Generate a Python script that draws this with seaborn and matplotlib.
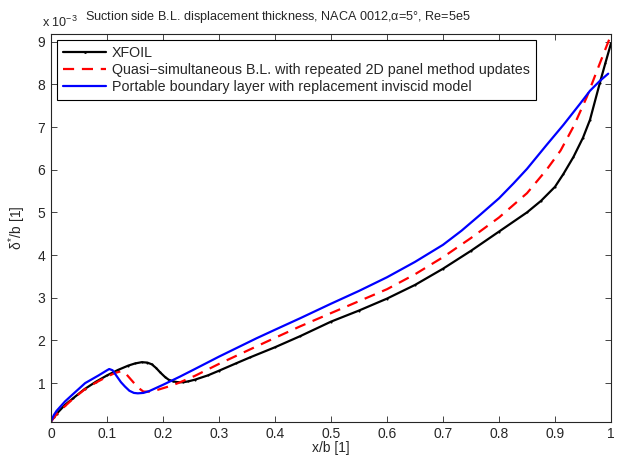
import numpy as np
import pandas as pd
import matplotlib
matplotlib.use("Agg")
import matplotlib.pyplot as plt
import seaborn as sns

# displacement thickness values in units of 1e-3
xfoil_x = [0.0, 0.005, 0.01, 0.025, 0.04, 0.06, 0.08, 0.1, 0.12, 0.138, 0.15, 0.162, 0.172, 0.18,
           0.188, 0.195, 0.203, 0.21, 0.218, 0.227, 0.236, 0.245, 0.257, 0.28, 0.3, 0.33, 0.355,
           0.4, 0.445, 0.5, 0.55, 0.6, 0.65, 0.7, 0.75, 0.8, 0.85, 0.875, 0.9, 0.915, 0.933,
           0.95, 0.9625, 0.98, 0.99, 1.0]
xfoil_y = [0.1, 0.2, 0.28, 0.49, 0.65, 0.86, 1.03, 1.18, 1.31, 1.41, 1.46, 1.49, 1.48, 1.44,
           1.35, 1.25, 1.15, 1.08, 1.04, 1.02, 1.02, 1.04, 1.08, 1.18, 1.29, 1.46, 1.6,
           1.84, 2.1, 2.44, 2.7, 2.98, 3.3, 3.68, 4.1, 4.55, 5.0, 5.27, 5.6, 5.9, 6.3,
           6.75, 7.17, 8.03, 8.5, 8.96]

quasi_x = [0.0, 0.01, 0.025, 0.04, 0.06, 0.08, 0.1, 0.115, 0.126, 0.135, 0.147, 0.157, 0.165,
           0.175, 0.19, 0.21, 0.227, 0.257, 0.3, 0.367, 0.4, 0.445, 0.5, 0.55, 0.6, 0.65, 0.7,
           0.75, 0.8, 0.85, 0.885, 0.91, 0.933, 0.957, 0.98, 1.0]
quasi_y = [0.1, 0.27, 0.46, 0.64, 0.85, 1.01, 1.15, 1.24, 1.28, 1.2, 1.02, 0.88, 0.8,
           0.8, 0.84, 0.92, 1.0, 1.17, 1.45, 1.86, 2.06, 2.33, 2.64, 2.92, 3.2, 3.55, 3.95,
           4.4, 4.88, 5.45, 6.0, 6.45, 7.01, 7.71, 8.49, 9.16]

portable_x = [0.0, 0.005, 0.01, 0.025, 0.04, 0.061, 0.085, 0.1, 0.104, 0.11, 0.118, 0.125, 0.132,
              0.14, 0.148, 0.155, 0.165, 0.175, 0.2, 0.23, 0.257, 0.3, 0.367, 0.4, 0.445, 0.5,
              0.55, 0.6, 0.65, 0.7, 0.733, 0.766, 0.8, 0.826, 0.85, 0.885, 0.915, 0.945, 0.9625,
              0.98, 0.995]
portable_y = [0.1, 0.25, 0.35, 0.57, 0.75, 1.0, 1.18, 1.3, 1.33, 1.3, 1.15, 1.02, 0.92,
              0.82, 0.77, 0.76, 0.77, 0.81, 0.96, 1.15, 1.33, 1.62, 2.05, 2.25, 2.52, 2.86,
              3.16, 3.48, 3.84, 4.24, 4.57, 4.94, 5.33, 5.68, 6.02, 6.58, 7.05, 7.55, 7.85,
              8.08, 8.25]

labels = ["XFOIL",
          "Quasi\u2212simultaneous B.L. with repeated 2D panel method updates",
          "Portable boundary layer with replacement inviscid model"]

x_ticks = [0, 0.1, 0.2, 0.3, 0.4, 0.5, 0.6, 0.7, 0.8, 0.9, 1.0]
x_ticklabels = ["0", "0.1", "0.2", "0.3", "0.4", "0.5", "0.6", "0.7", "0.8", "0.9", "1"]
y_ticks = [1, 2, 3, 4, 5, 6, 7, 8, 9]
y_ticklabels = ["1", "2", "3", "4", "5", "6", "7", "8", "9"]

sns.set_style("ticks")
plt.rcParams['font.family'] = ['Liberation Sans', 'DejaVu Sans']
plt.rcParams['mathtext.fontset'] = 'custom'
plt.rcParams['mathtext.rm'] = 'Liberation Sans'
plt.rcParams['mathtext.it'] = 'Liberation Sans'
FS = 10.0
FS_T = 9.1
FS_L = 10.3

fig = plt.figure(figsize=(6.18, 4.61), dpi=100)
ax = fig.add_axes([51/618, 1-421.5/461, (611-51)/618, (421.5-34)/461])

df1 = pd.DataFrame({"x": xfoil_x, "y": xfoil_y})
df2 = pd.DataFrame({"x": quasi_x, "y": quasi_y})
df3 = pd.DataFrame({"x": portable_x, "y": portable_y})

sns.lineplot(data=df1, x="x", y="y", ax=ax, color="black", lw=1.6, marker=".", ms=1.5,
             mec="black", sort=False, estimator=None, label=labels[0])
sns.lineplot(data=df2, x="x", y="y", ax=ax, color="red", lw=1.6, sort=False, estimator=None,
             label=labels[1])
ax.lines[-1].set_dashes([5, 3.5])
sns.lineplot(data=df3, x="x", y="y", ax=ax, color="blue", lw=1.6, sort=False, estimator=None,
             label=labels[2])

ax.set_xlim(0, 1)
ax.set_ylim(0.1, 9.18)
ax.set_xticks(x_ticks)
ax.set_xticklabels(x_ticklabels, fontsize=FS)
ax.set_yticks(y_ticks)
ax.set_yticklabels(y_ticklabels, fontsize=FS)
ax.tick_params(direction="in", length=4, width=0.6, top=True, right=True, pad=4)
for s in ax.spines.values():
    s.set_linewidth(0.8)
    s.set_visible(True)

ax.set_xlabel("x/b [1]", fontsize=FS, labelpad=0)
ax.set_ylabel("$\\delta^{*}$/b [1]", fontsize=FS, labelpad=7)

fig.text(278/618, 1-17/461, "Suction side B.L. displacement thickness, NACA 0012,$\\alpha$=5\u00b0, Re=5e5",
         ha="center", va="center", fontsize=FS_T)
fig.text(42/618, 1-22/461, "x 10$^{-3}$", ha="left", va="center", fontsize=FS_T)

leg = ax.legend(loc="upper left", fontsize=FS_L, frameon=True, fancybox=False, framealpha=1,
                edgecolor="black", handlelength=3.0, handletextpad=0.42, borderaxespad=0.45,
                labelspacing=0.2, borderpad=0.4)
leg.get_frame().set_linewidth(0.8)
for h in leg.get_lines():
    h.set_markersize(2.5)

fig.savefig("out.png", dpi=100)
